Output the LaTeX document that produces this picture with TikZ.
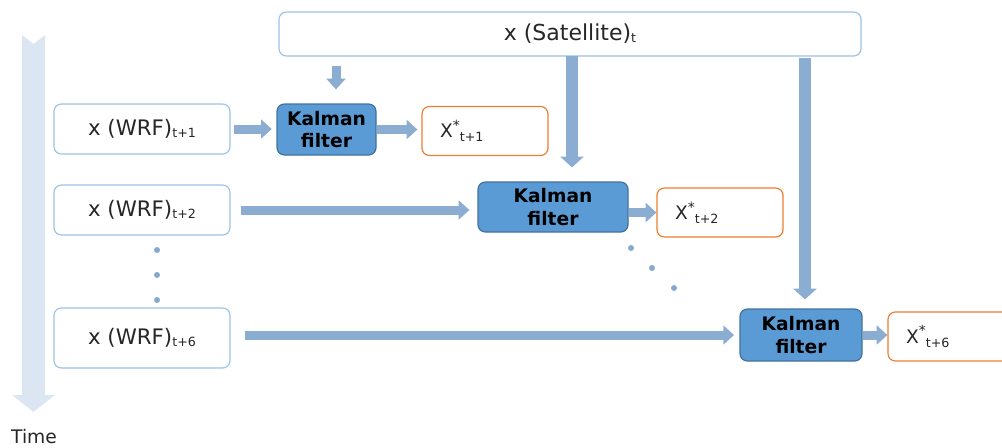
\documentclass[tikz,border=0pt]{standalone}
\usepackage{fontspec}
\setmainfont{DejaVu Sans}
\usetikzlibrary{arrows.meta}
\definecolor{boxblue}{HTML}{9DC3E6}
\definecolor{kfill}{HTML}{5B9BD5}
\definecolor{kborder}{HTML}{41719C}
\definecolor{outorange}{HTML}{ED7D31}
\definecolor{arrowblue}{HTML}{8BADD2}
\definecolor{dotblue}{HTML}{84AAD2}
\definecolor{timeblue}{HTML}{DCE6F2}
\definecolor{textgray}{HTML}{262626}
\newcommand{\subtxt}[1]{\raisebox{-1pt}{\fontsize{9.5}{10}\selectfont #1}}
\newcommand{\outtxt}[1]{{\fontsize{14}{16}\selectfont X}\raisebox{5.5pt}{\fontsize{10.5}{11}\selectfont *}\raisebox{-3pt}{\fontsize{9.5}{10}\selectfont #1}}
\tikzset{
  inbox/.style={draw=boxblue, line width=0.9pt, rounded corners=5.5pt, fill=white, inner sep=0pt, text=textgray, font=\fontsize{16}{18}\selectfont},
  kbox/.style={draw=kborder, fill=kfill, line width=0.9pt, rounded corners=5.5pt, inner sep=0pt, align=center, font=\bfseries\fontsize{14}{17}\selectfont},
  obox/.style={draw=outorange, line width=0.9pt, rounded corners=5.5pt, fill=white, inner xsep=13.5pt, inner ysep=0pt, minimum height=36.75pt, text width=67.5pt, align=left, text=textgray},
  barrow/.style={draw=arrowblue, line width=6.75pt, -{Triangle[width=14pt,length=8pt]}},
  bigarrow/.style={draw=arrowblue, line width=8.5pt, -{Triangle[width=17pt,length=8pt]}},
  dotn/.style={circle, fill=dotblue, inner sep=0pt, minimum size=4.5pt}
}
\begin{document}
\begin{tikzpicture}[x=0.75pt,y=-0.75pt]
\useasboundingbox (0,0) rectangle (1002,447);
% time arrow
\fill[timeblue] (22,35) -- (33.5,44) -- (45,35) -- (45,395) -- (55,395) -- (33.5,412) -- (12,395) -- (22,395) -- cycle;
\node[text=textgray, font=\fontsize{14}{16}\selectfont] (time) at (34,437) {Time};
% satellite
\node[inbox, minimum width=436.5pt, minimum height=33pt, font=\fontsize{16.5}{18}\selectfont] (sat) at (570,34) {x (Satellite)\subtxt{t}};
% WRF boxes
\node[inbox, minimum width=132pt, minimum height=37.5pt] (w1) at (142,129) {x (WRF)\subtxt{t+1}};
\node[inbox, minimum width=132pt, minimum height=37.5pt] (w2) at (142,210) {x (WRF)\subtxt{t+2}};
\node[inbox, minimum width=132pt, minimum height=45pt] (w6) at (142,338) {x (WRF)\subtxt{t+6}};
% Kalman filters
\node[kbox, minimum width=74.25pt, minimum height=38.25pt] (k1) at (326.5,129.5) {Kalman\\filter};
\node[kbox, minimum width=112.5pt, minimum height=37.5pt] (k2) at (553,207) {Kalman\\filter};
\node[kbox, minimum width=91.5pt, minimum height=39pt] (k3) at (801,335) {Kalman\\filter};
% outputs
\node[obox] (o1) at (485,131) {\outtxt{t+1}};
\node[obox] (o2) at (720,212.5) {\outtxt{t+2}};
\node[obox] (o3) at (951,336.5) {\outtxt{t+6}};
% dots
\node[dotn] (d1) at (157,250) {};
\node[dotn] (d2) at (157,275) {};
\node[dotn] (d3) at (157,300) {};
\node[dotn] (d4) at (631,248) {};
\node[dotn] (d5) at (652,268) {};
\node[dotn] (d6) at (674,288) {};
% satellite arrows
\coordinate (sa1) at (336,66);
\coordinate (sa2) at (572,56);
\coordinate (sa3) at (805,58);
\draw[barrow, shorten >=10.5pt] (sa1) -- (sa1 |- k1.north);
\draw[bigarrow, shorten >=10.5pt] (sa2) -- (sa2 |- k2.north);
\draw[bigarrow, shorten >=6.75pt] (sa3) -- (sa3 |- k3.north);
% WRF to Kalman
\draw[barrow, shorten <=2.5pt, shorten >=3.5pt] (w1.east) -- (w1.east -| k1.west);
\draw[barrow, shorten <=7.5pt, shorten >=6pt] (w2.east) -- (w2.east -| k2.west);
\draw[barrow, shorten <=10.5pt, shorten >=4pt] (w6.east |- k3.west) -- (k3.west);
% Kalman to outputs
\draw[barrow, shorten >=3pt] (k1.east) -- (k1.east -| o1.west);
\draw[barrow] (k2.east |- o2.west) -- (o2.west);
\draw[barrow] (k3.east) -- (k3.east -| o3.west);
\end{tikzpicture}
\end{document}
